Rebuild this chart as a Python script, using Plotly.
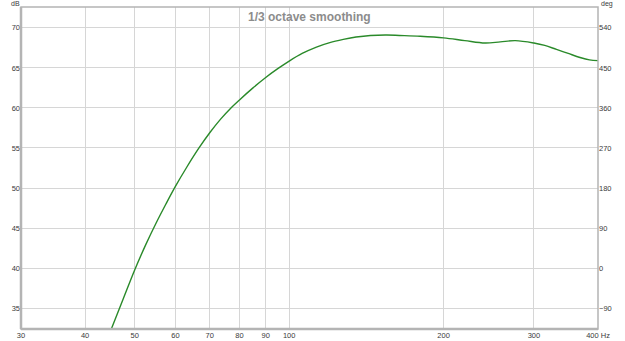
import plotly.graph_objects as go

# Data
freq_hz = [44, 45, 47.5, 50, 52.5, 55, 57.5, 60, 63, 66.7, 70, 73.5, 77, 80, 85, 90, 95, 100,
           106, 113, 120, 127.5, 135, 144, 155, 164, 180, 200, 220, 241, 258, 276, 300,
           315, 332, 350, 369, 385, 400]
spl_db = [30.8, 32.4, 36.2, 39.8, 42.9, 45.6, 48.0, 50.2, 52.5, 55.0, 56.9, 58.6, 60.0, 61.0,
          62.5, 63.8, 64.9, 65.85, 66.8, 67.6, 68.15, 68.55, 68.85, 69.05, 69.1, 69.05, 68.95, 68.75,
          68.4, 68.1, 68.25, 68.4, 68.1, 67.8, 67.3, 66.8, 66.3, 66.0, 65.9]

x_tickvals = [30, 40, 50, 60, 70, 80, 90, 100, 200, 300, 400]
x_ticktext = ["30", "40", "50", "60", "70", "80", "90", "100", "200", "300", "400 Hz"]
db_ticks = [35, 40, 45, 50, 55, 60, 65, 70]
deg_ticks = [-90, 0, 90, 180, 270, 360, 450, 540]

db_range = [32.4, 72.6]
deg_range = [(db_range[0] - 40) * 18, (db_range[1] - 40) * 18]

font_family = "Liberation Sans, Arial, sans-serif"
tick_font = dict(family=font_family, size=7.5, color="#3a3a3a")
corner_font = dict(family=font_family, size=7, color="#3a3a3a")

L, R, T, B = 21, 27, 7, 12
W, H = 625, 341
pw = W - L - R
ph = H - T - B

fig = go.Figure()
fig.add_trace(go.Scatter(x=freq_hz, y=spl_db, mode="lines",
                         line=dict(color="#2a8a2a", width=1.4, shape="spline", smoothing=1.0),
                         showlegend=False, hoverinfo="skip"))
# invisible trace to activate right axis
fig.add_trace(go.Scatter(x=[100], y=[0], yaxis="y2", mode="markers",
                         marker=dict(opacity=0), showlegend=False, hoverinfo="skip"))

fig.update_layout(
    width=W, height=H,
    margin=dict(l=L, r=R, t=T, b=B, autoexpand=False),
    paper_bgcolor="white", plot_bgcolor="white",
    xaxis=dict(type="log", range=[1.47712, 2.60206], tickvals=x_tickvals, ticktext=x_ticktext,
               showgrid=True, gridcolor="#d6d6d6", gridwidth=1, zeroline=False, automargin=False,
               showline=False, ticks="", tickfont=tick_font, ticklabelstandoff=0),
    yaxis=dict(range=db_range, tickvals=db_ticks, showgrid=True, gridcolor="#d6d6d6",
               zeroline=False, showline=False, ticks="", tickfont=tick_font, automargin=False),
    yaxis2=dict(range=deg_range, tickvals=deg_ticks, overlaying="y", side="right", automargin=False,
                showgrid=False, zeroline=False, showline=False, ticks="", tickfont=tick_font),
    annotations=[
        dict(text="<b>1/3 octave smoothing</b>", x=0.5, y=1, xref="paper", yref="paper",
             xanchor="center", yanchor="top", yshift=-1, showarrow=False,
             font=dict(family=font_family, size=12, color="#8c8c8c")),
        dict(text="dB", x=(15 - L) / pw, y=1 + (T - 4) / ph, xref="paper", yref="paper",
             showarrow=False, xanchor="center", yanchor="middle", font=corner_font),
        dict(text="deg", x=(607 - L) / pw, y=1 + (T - 4) / ph, xref="paper", yref="paper",
             showarrow=False, xanchor="center", yanchor="middle", font=corner_font),
    ],
    shapes=[
        dict(type="rect", xref="paper", yref="paper", x0=0, x1=1, y0=0, y1=1,
             line=dict(color="#b4b4b4", width=1.5)),
        dict(type="line", xref="paper", yref="paper", x0=0, x1=0, y0=0, y1=1,
             line=dict(color="#b4b4b4", width=2.5)),
        dict(type="line", xref="paper", yref="paper", x0=0, x1=1, y0=0, y1=0,
             line=dict(color="#b4b4b4", width=2.5)),
    ],
)

fig.write_html("out.html")
